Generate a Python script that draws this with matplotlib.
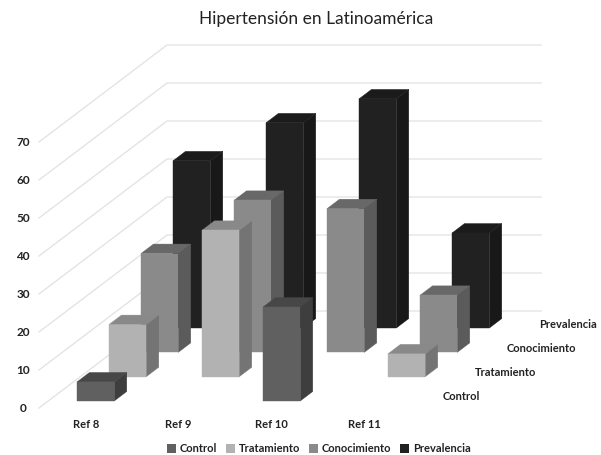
import matplotlib.pyplot as plt
import numpy as np
from matplotlib.patches import Polygon, Patch

plt.rcParams['font.family'] = ['Lato', 'DejaVu Sans']

categories = ['Ref 8', 'Ref 9', 'Ref 10', 'Ref 11']
series = ['Control', 'Tratamiento', 'Conocimiento', 'Prevalencia']
control = [5, np.nan, 24.7, np.nan]
tratamiento = [13.7, 38.5, np.nan, 6]
conocimiento = [26, 40, 37.8, 15]
prevalencia = [44, 54, 60.3, 25]
y_ticks = [0, 10, 20, 30, 40, 50, 60, 70]

all_values = [control, tratamiento, conocimiento, prevalencia]
# front, top, side shade of each series
colors = [('#606060', '#474747', '#3e3e3e'),
          ('#b2b2b2', '#898989', '#747474'),
          ('#8a8a8a', '#686868', '#5b5b5b'),
          ('#212121', '#1b1b1b', '#181818')]
text_color = '#222222'

fig = plt.figure(figsize=(6.01, 4.55), dpi=100)
ax = fig.add_axes([0, 0, 1, 1])
ax.set_xlim(0, 601)
ax.set_ylim(455, 0)
ax.axis('off')


# oblique view: cat along x, depth goes back and to the right, val goes up
def project(cat, depth, val):
    x = 67.7 + 93 * cat + 32 * depth
    y = 408 - 24.3 * depth - 3.8 * val
    return x, y


# gridlines on side wall and back wall
for v in y_ticks:
    x0, y0 = 39, 408 - 3.8 * v
    x1, y1 = 167, y0 - 97
    ax.plot([x0, x1, 541], [y0, y1, y1], color='#e4e4e4', lw=1, zorder=1)
    ax.text(23, y0 + 0.5, str(v), ha='center', va='center', fontsize=8.5,
            fontweight='bold', color=text_color)

# back row first so that front rows cover it
zo = 2
w = 37.3 / 93
for row in [3, 2, 1, 0]:
    for cat in range(len(categories)):
        val = all_values[row][cat]
        if np.isnan(val):
            continue
        front, top, side = colors[row]
        d0 = row + 0.29
        d1 = d0 + 0.39
        ax.add_patch(Polygon([project(cat + w, d0, 0), project(cat + w, d0, val),
                              project(cat + w, d1, val), project(cat + w, d1, 0)],
                             fc=side, ec=side, lw=0.3, zorder=zo))
        ax.add_patch(Polygon([project(cat, d0, val), project(cat + w, d0, val),
                              project(cat + w, d1, val), project(cat, d1, val)],
                             fc=top, ec=top, lw=0.3, zorder=zo))
        ax.add_patch(Polygon([project(cat, d0, 0), project(cat + w, d0, 0),
                              project(cat + w, d0, val), project(cat, d0, val)],
                             fc=front, ec=front, lw=0.3, zorder=zo + 0.5))
        zo += 1

for i, name in enumerate(categories):
    ax.text(86 + 92.7 * i, 424, name, ha='center', va='center', fontsize=8,
            fontweight='bold', color=text_color)

for i, name in enumerate(series):
    ax.text(443 + 32 * i, 397 - 24.3 * i, name, ha='left', va='center', fontsize=8,
            fontweight='bold', color=text_color)

ax.text(316.5, 19, 'Hipertensión en Latinoamérica', ha='center', va='center',
        fontsize=12.5, color=text_color)

handles = [Patch(fc=colors[i][0], ec='none') for i in range(len(series))]
leg = ax.legend(handles, series, loc='center', bbox_to_anchor=(318.5 / 601, 1 - 449 / 455),
                ncol=4, frameon=False, handlelength=0.8, handleheight=0.8,
                handletextpad=0.35, columnspacing=0.8, borderpad=0,
                prop={'weight': 'bold', 'size': 8})
for t in leg.get_texts():
    t.set_color(text_color)

plt.savefig('out.png', dpi=100)
